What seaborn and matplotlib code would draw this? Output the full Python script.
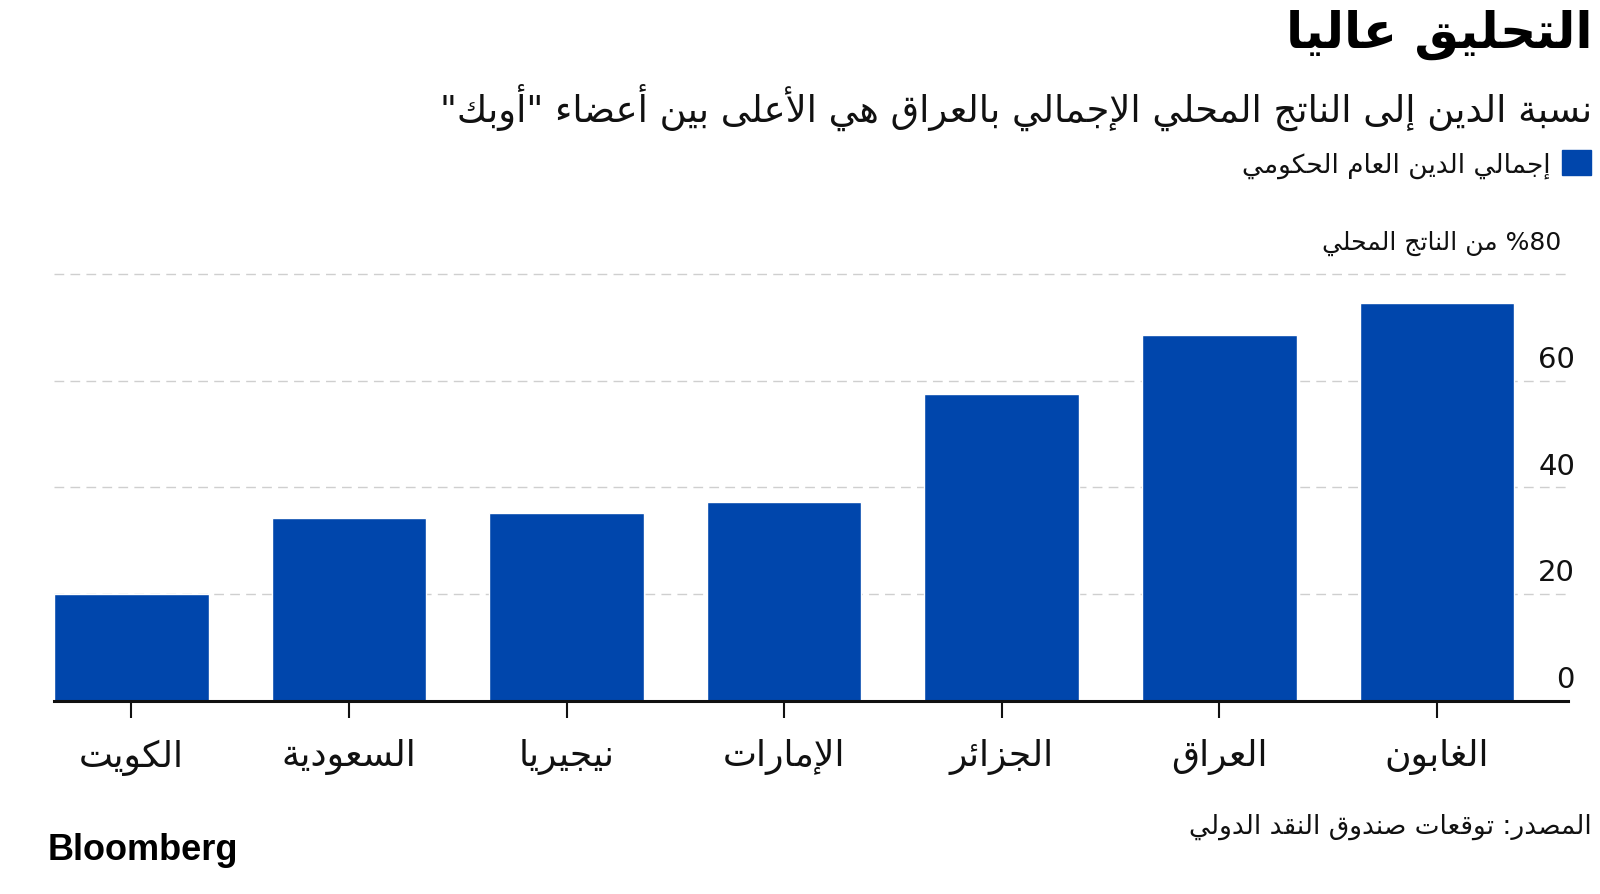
import re
import matplotlib
matplotlib.use("Agg")
import matplotlib.pyplot as plt
import matplotlib.transforms as mtransforms
from matplotlib.patches import Patch
import seaborn as sns

# data
countries = ["الكويت", "السعودية", "نيجيريا", "الإمارات", "الجزائر", "العراق", "الغابون"]
debt = [20.1, 34.2, 35.2, 37.3, 57.6, 68.5, 74.6]
y_ticks = [0, 20, 40, 60]
y_top = 80

title = "التحليق عاليا"
subtitle = 'نسبة الدين إلى الناتج المحلي الإجمالي بالعراق هي الأعلى بين أعضاء "أوبك"'
legend_label = "إجمالي الدين العام الحكومي"
unit_label = "80% من الناتج المحلي"
source = "المصدر: توقعات صندوق النقد الدولي"

BLUE = "#0046AC"
INK = "#111111"

# matplotlib has no arabic shaping, so map letters to presentation forms
# isolated, final, initial, medial (None: no join to the following letter)
FORMS = {
    "\u0621": ("\uFE80", None, None, None),
    "\u0622": ("\uFE81", "\uFE82", None, None),
    "\u0623": ("\uFE83", "\uFE84", None, None),
    "\u0624": ("\uFE85", "\uFE86", None, None),
    "\u0625": ("\uFE87", "\uFE88", None, None),
    "\u0626": ("\uFE89", "\uFE8A", "\uFE8B", "\uFE8C"),
    "\u0627": ("\uFE8D", "\uFE8E", None, None),
    "\u0628": ("\uFE8F", "\uFE90", "\uFE91", "\uFE92"),
    "\u0629": ("\uFE93", "\uFE94", None, None),
    "\u062A": ("\uFE95", "\uFE96", "\uFE97", "\uFE98"),
    "\u062B": ("\uFE99", "\uFE9A", "\uFE9B", "\uFE9C"),
    "\u062C": ("\uFE9D", "\uFE9E", "\uFE9F", "\uFEA0"),
    "\u062D": ("\uFEA1", "\uFEA2", "\uFEA3", "\uFEA4"),
    "\u062E": ("\uFEA5", "\uFEA6", "\uFEA7", "\uFEA8"),
    "\u062F": ("\uFEA9", "\uFEAA", None, None),
    "\u0630": ("\uFEAB", "\uFEAC", None, None),
    "\u0631": ("\uFEAD", "\uFEAE", None, None),
    "\u0632": ("\uFEAF", "\uFEB0", None, None),
    "\u0633": ("\uFEB1", "\uFEB2", "\uFEB3", "\uFEB4"),
    "\u0634": ("\uFEB5", "\uFEB6", "\uFEB7", "\uFEB8"),
    "\u0635": ("\uFEB9", "\uFEBA", "\uFEBB", "\uFEBC"),
    "\u0636": ("\uFEBD", "\uFEBE", "\uFEBF", "\uFEC0"),
    "\u0637": ("\uFEC1", "\uFEC2", "\uFEC3", "\uFEC4"),
    "\u0638": ("\uFEC5", "\uFEC6", "\uFEC7", "\uFEC8"),
    "\u0639": ("\uFEC9", "\uFECA", "\uFECB", "\uFECC"),
    "\u063A": ("\uFECD", "\uFECE", "\uFECF", "\uFED0"),
    "\u0641": ("\uFED1", "\uFED2", "\uFED3", "\uFED4"),
    "\u0642": ("\uFED5", "\uFED6", "\uFED7", "\uFED8"),
    "\u0643": ("\uFED9", "\uFEDA", "\uFEDB", "\uFEDC"),
    "\u0644": ("\uFEDD", "\uFEDE", "\uFEDF", "\uFEE0"),
    "\u0645": ("\uFEE1", "\uFEE2", "\uFEE3", "\uFEE4"),
    "\u0646": ("\uFEE5", "\uFEE6", "\uFEE7", "\uFEE8"),
    "\u0647": ("\uFEE9", "\uFEEA", "\uFEEB", "\uFEEC"),
    "\u0648": ("\uFEED", "\uFEEE", None, None),
    "\u0649": ("\uFEEF", "\uFEF0", "\uFBE8", "\uFBE9"),
    "\u064A": ("\uFEF1", "\uFEF2", "\uFEF3", "\uFEF4"),
}
LAM_ALEF = {
    "\u0622": ("\uFEF5", "\uFEF6"),
    "\u0623": ("\uFEF7", "\uFEF8"),
    "\u0625": ("\uFEF9", "\uFEFA"),
    "\u0627": ("\uFEFB", "\uFEFC"),
}


def joins_next(c):
    return c in FORMS and FORMS[c][2] is not None


def joins_prev(c):
    return c in FORMS and FORMS[c][1] is not None


def shape(text):
    out = []
    i = 0
    while i < len(text):
        c = text[i]
        if c not in FORMS:
            out.append(c)
            i += 1
            continue
        prev = text[i - 1] if i > 0 else ""
        nxt = text[i + 1] if i + 1 < len(text) else ""
        link_prev = joins_next(prev) and joins_prev(c)
        if c == "\u0644" and nxt in LAM_ALEF:
            iso, fin = LAM_ALEF[nxt]
            out.append(fin if link_prev else iso)
            i += 2
            continue
        link_next = joins_next(c) and joins_prev(nxt)
        iso, fin, ini, med = FORMS[c]
        if link_prev and link_next:
            out.append(med)
        elif link_prev:
            out.append(fin)
        elif link_next:
            out.append(ini)
        else:
            out.append(iso)
        i += 1
    return "".join(out)


def rtl(text):
    # visual order: reverse everything, then put digit runs back
    s = shape(text)[::-1]
    return re.sub(r"[0-9]+", lambda m: m.group(0)[::-1], s)


sns.set_theme(style="white")
plt.rcParams["font.family"] = ["DejaVu Sans"]
plt.rcParams["text.color"] = INK

W, H = 1600, 895
fig = plt.figure(figsize=(W / 100, H / 100), dpi=100)
fig.patch.set_facecolor("white")

# axes placed in pixels of the reference
left, right, bottom, top = 54, 1568, 702, 272.3
ax = fig.add_axes([left / W, 1 - bottom / H, (right - left) / W, (bottom - top) / H])

labels = [rtl(c) for c in countries]
sns.barplot(x=labels, y=debt, color=BLUE, saturation=1, width=0.71, ax=ax, zorder=2)

ax.set_xlim(-0.355, 6.602)
ax.set_ylim(0, y_top + 0.5)
ax.set_facecolor("white")
ax.set_xlabel("")
ax.set_ylabel("")

ax.set_yticks(y_ticks + [y_top])
ax.yaxis.grid(True, color="#cfcfcf", linestyle=(0, (7, 4.5)), linewidth=1)
ax.set_axisbelow(True)
ax.tick_params(axis="y", length=0, labelleft=False)
ax.tick_params(axis="x", length=12, width=1.5, color=INK, pad=15,
               labelsize=26, labelcolor=INK, bottom=True)

for side in ["top", "right", "left"]:
    ax.spines[side].set_visible(False)
ax.spines["bottom"].set_color(INK)
ax.spines["bottom"].set_linewidth(2.2)
ax.spines["bottom"].set_zorder(3)

# y tick labels sit just above their gridlines, inside on the right
lift = mtransforms.offset_copy(ax.get_yaxis_transform(), fig=fig, x=5, y=10, units="points")
for v in y_ticks:
    ax.text(1.0, v, str(v), transform=lift, ha="right", va="baseline",
            fontsize=21, color=INK)

fig.text(1561 / W, 1 - 250 / H, rtl(unit_label), ha="right", va="baseline",
         fontsize=18, color=INK)

# titles
fig.text(1593 / W, 1 - 48 / H, rtl(title), ha="right", va="baseline",
         fontsize=36, fontweight="bold", color="black")
fig.text(1592 / W, 1 - 122 / H, rtl(subtitle), ha="right", va="baseline",
         fontsize=26.6, color=INK)

# legend, swatch on the right like the reference
ax.legend(handles=[Patch(color=BLUE)], labels=[rtl(legend_label)],
          markerfirst=False, frameon=False, fontsize=19,
          handlelength=1.1, handleheight=1.1, handletextpad=0.45,
          borderpad=0, borderaxespad=0,
          loc="upper right", bbox_to_anchor=(1591 / W, 1 - 151 / H),
          bbox_transform=fig.transFigure)

fig.text(1592 / W, 1 - 834 / H, rtl(source), ha="right", va="baseline",
         fontsize=19, color=INK)
fig.text(48 / W, 1 - 860 / H, "Bloomberg", ha="left", va="baseline",
         fontsize=26, fontweight="bold", family="Liberation Sans", color="black")

fig.savefig("out.png", dpi=100, facecolor="white")
